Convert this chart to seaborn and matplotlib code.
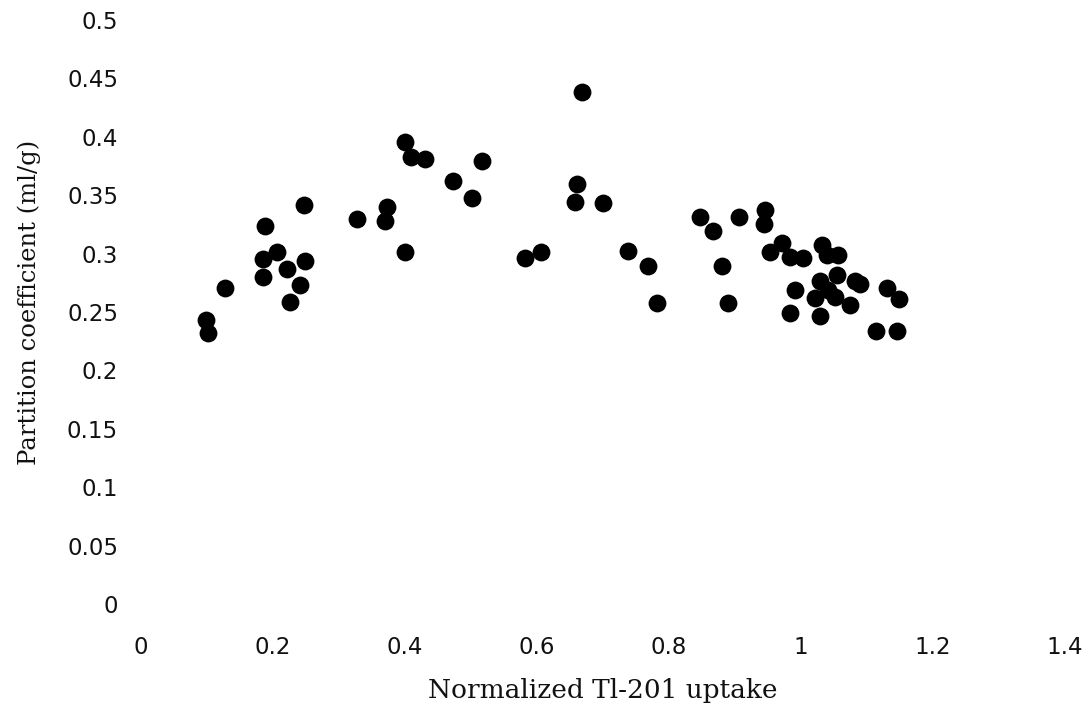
import matplotlib
matplotlib.use("Agg")
import matplotlib.pyplot as plt
import seaborn as sns
import pandas as pd

# Normalized Tl-201 uptake vs partition coefficient
uptake = [
    0.098, 0.102, 0.127, 0.188, 0.185, 0.185, 0.206, 0.221, 0.226, 0.241,
    0.248, 0.247, 0.327, 0.373, 0.370, 0.400, 0.400, 0.409, 0.430, 0.473,
    0.502, 0.517, 0.582, 0.606, 0.658, 0.661, 0.668, 0.700, 0.738, 0.768,
    0.782, 0.847, 0.867, 0.880, 0.889, 0.906, 0.945, 0.944, 0.953, 0.971,
    0.983, 1.003, 1.032, 1.039, 1.056, 0.991, 1.029, 1.055, 1.082, 1.089,
    1.021, 1.052, 1.074, 0.983, 1.029, 1.130, 1.148, 1.114, 1.145, 1.041,
]
partition = [
    0.243, 0.232, 0.271, 0.324, 0.295, 0.280, 0.301, 0.287, 0.259, 0.273,
    0.294, 0.342, 0.330, 0.340, 0.328, 0.301, 0.396, 0.383, 0.381, 0.362,
    0.348, 0.379, 0.296, 0.301, 0.344, 0.360, 0.438, 0.343, 0.302, 0.289,
    0.258, 0.331, 0.319, 0.289, 0.258, 0.331, 0.337, 0.325, 0.301, 0.309,
    0.297, 0.296, 0.307, 0.299, 0.299, 0.269, 0.277, 0.282, 0.277, 0.274,
    0.262, 0.263, 0.256, 0.249, 0.247, 0.271, 0.261, 0.234, 0.234, 0.269,
]

x_ticks = [0, 0.2, 0.4, 0.6, 0.8, 1.0, 1.2, 1.4]
x_labels = ["0", "0.2", "0.4", "0.6", "0.8", "1", "1.2", "1.4"]
y_ticks = [0, 0.05, 0.1, 0.15, 0.2, 0.25, 0.3, 0.35, 0.4, 0.45, 0.5]
y_labels = ["0", "0.05", "0.1", "0.15", "0.2", "0.25", "0.3", "0.35", "0.4", "0.45", "0.5"]

df = pd.DataFrame({"uptake": uptake, "partition": partition})

sns.set_style("white")
plt.rcParams["font.family"] = ["DejaVu Sans"]

fig = plt.figure(figsize=(10.92, 7.04), dpi=100)
ax = fig.add_axes([0.1291, 0.142, 0.8462, 0.8295])

sns.scatterplot(data=df, x="uptake", y="partition", ax=ax,
                color="black", s=165, edgecolor="black", linewidth=0)

ax.set_xlim(0, 1.4)
ax.set_ylim(0, 0.5)
ax.set_xticks(x_ticks)
ax.set_xticklabels(x_labels)
ax.set_yticks(y_ticks)
ax.set_yticklabels(y_labels)
ax.tick_params(axis="both", length=0, labelsize=16.5, colors="#111111")
ax.tick_params(axis="x", pad=23)
ax.tick_params(axis="y", pad=16.5)
for sp in ax.spines.values():
    sp.set_visible(False)

ax.set_xlabel("Normalized Tl-201 uptake", family="DejaVu Serif", fontsize=19,
              color="#111111", labelpad=14)
ax.set_ylabel("Partition coefficient (ml/g)", family="DejaVu Serif", fontsize=17.5,
              color="#111111")
ax.yaxis.set_label_coords(-0.108, 0.517)

fig.savefig("out.png", dpi=100)
